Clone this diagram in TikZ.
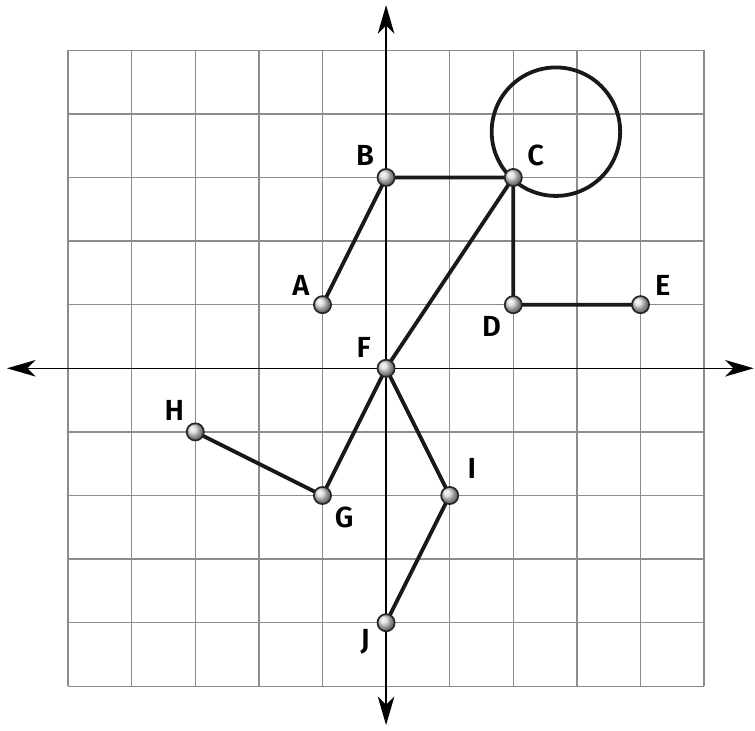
\documentclass[tikz,border=0pt]{standalone}
\usepackage{fontspec}
\setmainfont{Fira Sans}[UprightFont=* SemiBold]
\usetikzlibrary{arrows.meta}
\pgfdeclarelayer{back}
\pgfdeclarelayer{mid}
\pgfsetlayers{back,mid,main}
\begin{document}
\begin{tikzpicture}[x=1cm,y=1cm,
  gridline/.style={draw=black!45, line width=0.65pt},
  axis/.style={draw=black, line width=0.7pt, -{Stealth[length=0.45cm,width=0.26cm,inset=0.13cm]}},
  seg/.style={draw=black!90, line width=1.7pt},
  pt/.style={circle, minimum size=0.27cm, inner sep=0pt, draw=black!85, line width=0.75pt, shading=ball, ball color=black!15},
  lab/.style={font=\fontsize{13}{15}\selectfont, inner sep=0pt}]
\useasboundingbox (-6.07,-5.69) rectangle (5.80,5.79);
\node[pt] (A) at (-1,1) {};
\node[pt] (B) at (0,3) {};
\node[pt] (C) at (2,3) {};
\node[pt] (D) at (2,1) {};
\node[pt] (E) at (4,1) {};
\node[pt] (F) at (0,0) {};
\node[pt] (G) at (-1,-2) {};
\node[pt] (H) at (-3,-1) {};
\node[pt] (I) at (1,-2) {};
\node[pt] (J) at (0,-4) {};
\begin{pgfonlayer}{back}
\draw[gridline] (-5,-5) grid (5,5);
\draw[axis] (F.center) -- (-5.96,0);
\draw[axis] (F.center) -- (5.78,0);
\draw[axis] (F.center) -- (0,5.71);
\draw[axis] (F.center) -- (0,-5.61);
\end{pgfonlayer}
\begin{pgfonlayer}{mid}
\draw[black!90, line width=1.7pt] (2.67,3.72) circle (1.01);
\draw[seg] (A.center) -- (B.center) -- (C.center) -- (D.center) -- (E.center);
\draw[seg] (C.center) -- (F.center) -- (G.center) -- (H.center);
\draw[seg] (F.center) -- (I.center) -- (J.center);
\end{pgfonlayer}
\node[lab] (lA) at (-1.34,1.31) {A};
\node[lab] (lB) at (-0.33,3.35) {B};
\node[lab] (lC) at (2.35,3.35) {C};
\node[lab] (lD) at (1.66,0.65) {D};
\node[lab] (lE) at (4.35,1.31) {E};
\node[lab] (lF) at (-0.35,0.33) {F};
\node[lab] (lG) at (-0.66,-2.35) {G};
\node[lab] (lH) at (-3.33,-0.66) {H};
\node[lab] (lI) at (1.35,-1.57) {I};
\node[lab] (lJ) at (-0.33,-4.3) {J};
\end{tikzpicture}
\end{document}
